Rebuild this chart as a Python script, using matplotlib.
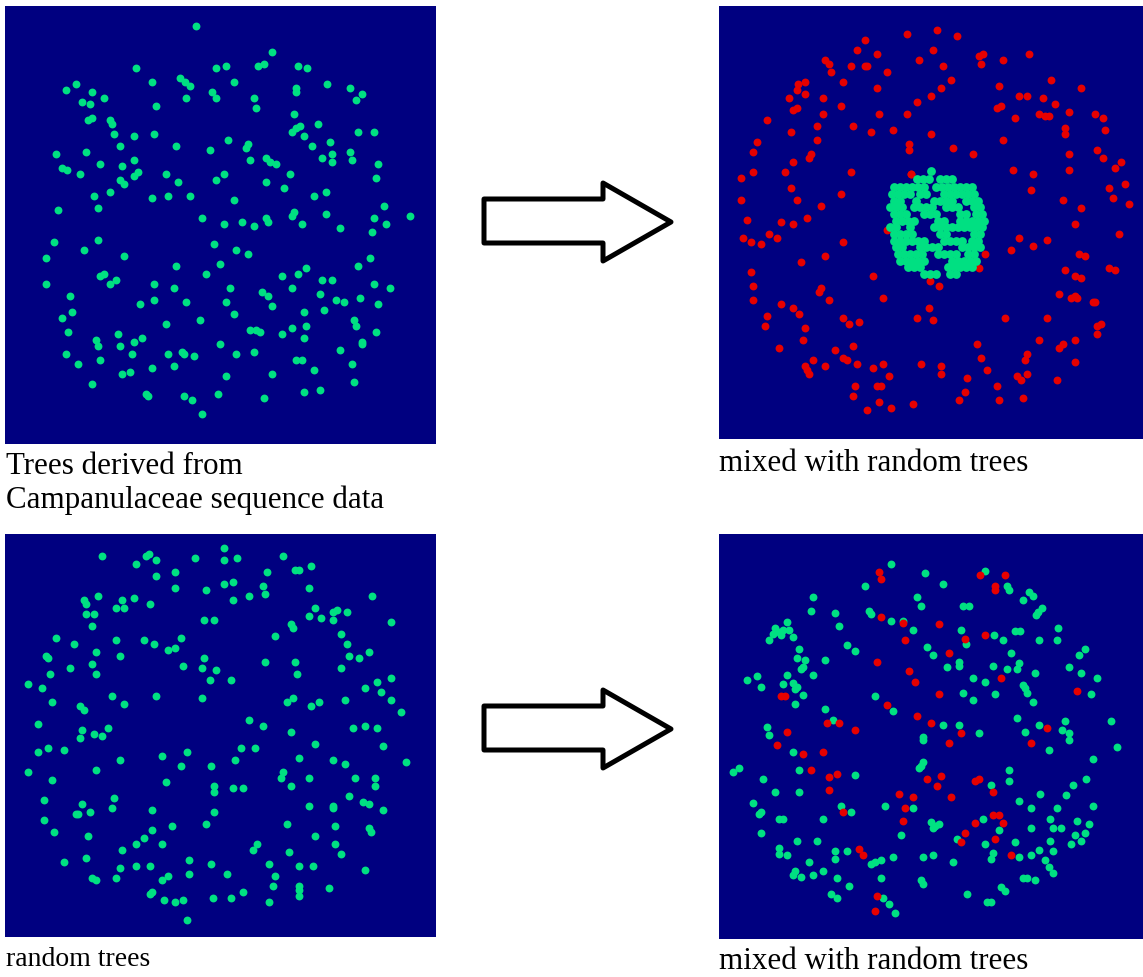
import numpy as np
import matplotlib
matplotlib.use("Agg")
import matplotlib.pyplot as plt
from matplotlib.patches import Polygon

# ---------------- data (pixel positions) ----------------
panel1_green = [(196,27),(272,53),(136,69),(216,69),(226,67),(258,67),(264,65),(298,67),(307,69),(76,85),(66,91),(152,83),(180,79),(185,83),(190,87),(234,83),(296,89),(296,93),(327,85),(350,89),(362,95),(356,101),(92,93),(104,99),(82,103),(90,105),(156,107),(186,99),(212,93),(216,99),(254,99),(256,109),(88,121),(92,119),(110,121),(112,125),(114,135),(134,137),(154,135),(294,115),(318,125),(292,133),(296,129),(300,127),(304,137),(358,133),(374,133),(56,155),(86,153),(120,147),(176,147),(210,151),(228,141),(248,145),(246,149),(312,147),(330,143),(332,155),(332,163),(322,159),(350,153),(352,161),(378,165),(62,169),(67,171),(80,175),(100,165),(122,167),(134,161),(120,181),(124,185),(134,177),(138,173),(166,175),(178,183),(216,181),(224,175),(250,161),(266,159),(270,163),(276,165),(290,175),(266,183),(284,189),(376,179),(94,197),(110,193),(152,199),(168,197),(190,197),(234,201),(314,197),(326,193),(58,211),(98,209),(384,207),(202,219),(224,225),(242,223),(254,227),(266,219),(268,223),(292,217),(294,213),(302,225),(326,215),(340,229),(374,219),(386,225),(410,217),(372,233),
    (54,243),(98,241),(84,251),(46,259),(124,257),(214,245),(236,251),(248,255),(370,259),(358,267),(176,267),(220,265),(206,275),(306,269),(298,275),(282,277),(100,277),(104,275),(110,285),(116,281),(46,285),(154,285),(174,289),(230,289),(292,289),(322,281),(332,281),(374,285),(390,289),(70,297),(140,305),(154,301),(186,303),(226,303),(262,293),(268,297),(272,307),(320,295),(336,301),(344,303),(360,299),(378,305),(72,313),(62,319),(234,315),(304,313),(324,311),(200,321),(166,325),(354,321),(356,327),(68,333),(118,335),(96,341),(98,347),(120,347),(134,343),(142,339),(250,331),(256,331),(260,333),(282,335),(292,329),(306,327),(304,339),(376,333),(362,343),(362,345),(220,345),(66,355),(100,361),(78,365),(132,355),(168,355),(182,353),(184,355),(194,357),(236,355),(254,353),(340,351),(296,361),(302,361),(352,365),(152,369),(174,367),(122,375),(130,373),(314,371),(226,377),(272,375),(354,383),(92,385),(146,395),(148,397),(184,397),(192,401),(218,395),(264,399),(304,393),(320,391),(202,415)]

panel2_red = [(937,31),(907,35),(957,37),(865,41),(857,51),(877,55),(933,51),(979,57),(983,55),(981,65),(1003,61),(1029,55),(919,61),(825,61),(829,65),(851,67),(865,67),(867,67),(943,67),(831,73),(887,73),(843,83),(877,89),(951,81),(941,89),(798,85),(805,83),(797,91),(805,95),(789,99),(823,99),(931,97),(917,103),(999,87),(1051,81),(1081,89),(1019,97),(1027,97),(1043,99),(1055,105),(793,111),(797,109),(841,107),(823,115),(879,115),(907,115),(997,109),(1001,107),(1015,119),(1039,115),(1045,117),(1049,117),(1069,113),(1095,115),(1103,119),(767,121),(817,127),(853,127),(791,133),(871,133),(893,131),(931,135),(1065,129),(1065,135),(1105,131),(757,143),(817,141),(909,145),(909,151),(1003,141),(753,153),(953,149),(973,155),(811,155),(809,159),(793,163),(1097,151),(1069,155),(1103,159),(1121,163),(1115,169),(753,173),(741,179),(785,173),(851,173),(911,175),(1013,171),(1033,175),(1069,171),(1125,185),(791,189),(1031,191),(1109,189),(741,201),(797,201),(841,195),(1063,201),(1113,199),(821,207),(1081,209),(1129,205),(747,221),(781,223),(793,225),(807,219),(1075,225),
    (743,239),(751,243),(761,245),(769,235),(777,239),(843,243),(887,231),(902,254),(985,255),(979,269),(1019,239),(1011,251),(1033,247),(1047,241),(1119,235),(1079,255),(1085,257),(1065,271),(1075,277),(1081,279),(1109,269),(1115,271),(801,263),(825,257),(751,273),(873,277),(930,282),(939,287),(753,287),(753,301),(819,293),(821,289),(829,301),(883,299),(781,305),(793,309),(799,315),(767,317),(765,327),(929,309),(917,319),(933,321),(843,319),(849,325),(859,323),(805,329),(803,341),(779,349),(1059,295),(1071,299),(1075,297),(1077,299),(1093,303),(1095,303),(1005,319),(1047,319),(1097,327),(1101,325),(1097,335),(1039,341),(1075,341),(1059,349),(1063,345),(977,345),(835,351),(853,347),(843,359),(847,361),(813,361),(805,367),(807,371),(809,375),(825,367),(857,365),(873,369),(883,365),(889,377),(921,365),(941,367),(941,375),(981,359),(987,371),(1027,355),(1025,361),(1027,375),(1017,377),(1021,381),(1075,363),(1057,381),(967,379),(997,387),(855,387),(877,387),(881,387),(853,397),(965,393),(959,401),(999,401),(1023,399),(879,403),(891,409),(867,411),(913,405),(911,175)]

# dense cluster of Campanulaceae trees: row y -> x positions
panel2_cluster_rows = {
    172: [931],
    180: [917,923,929,940,946,952],
    188: [894,900,906,912,918,924,936,942,948,954,960,966,972],
    195: [892,898,904,910,920,926,944,950,956,962,968,974],
    202: [894,900,916,934,940,946,952,966,972,978],
    208: [890,896,902,914,920,926,932,946,952,958,974,980],
    215: [894,900,906,924,930,936,960,966,976,982],
    222: [896,902,908,914,938,944,960,966,972,978,984],
    228: [890,896,910,934,940,946,952,958,964,970,976,982],
    235: [894,900,906,912,940,946,974,980],
    242: [894,900,906,912,918,924,944,950,956,962,972,978],
    248: [896,902,920,926,932,938,962,968,974,980],
    255: [898,904,910,916,922,938,944,950,956,968,974],
    262: [900,906,912,918,924,952,958,964,970,976],
    268: [908,914,920,948,954,960,966,972],
    275: [924,930,936,950,956],
}

panel3_green = [(102,557),(136,565),(146,557),(149,555),(156,561),(156,577),(175,573),(175,589),(195,559),(224,549),(224,561),(237,559),(283,557),(295,571),(299,571),(311,567),(267,573),(224,585),(233,583),(206,591),(263,587),(265,595),(249,597),(233,601),(309,589),(372,597),(84,601),(86,605),(98,597),(122,601),(116,609),(124,609),(134,599),(150,605),(86,615),(94,615),(92,627),(204,621),(214,621),(315,609),(309,617),(321,619),(333,613),(337,611),(333,621),(347,613),(391,623),(291,625),(293,629),(275,637),(341,635),(347,645),(56,639),(74,645),(116,641),(144,641),(154,645),(168,651),(175,649),(181,639),(96,653),(46,657),(48,659),(120,657),(349,657),(359,659),(369,653),(204,659),(92,665),(70,669),(96,675),(50,675),(183,667),(202,669),(216,671),(210,681),(231,681),(265,663),(295,663),(297,675),(341,669),(391,679),(377,683),(365,689),(381,693),(28,685),(42,689),(52,703),(112,697),(124,705),(156,697),(202,699),(80,707),(84,711),(287,703),(293,699),(311,707),(319,703),(345,701),(391,701),(401,713),(38,725),(82,731),(108,729),(94,735),(102,737),(249,721),(263,727),(291,733),(353,729),(365,727),(377,729),
    (80,739),(38,753),(48,749),(64,751),(28,773),(52,781),(96,771),(120,761),(162,757),(187,753),(181,767),(166,783),(211,767),(241,749),(255,749),(235,761),(214,787),(214,793),(233,789),(243,789),(315,745),(299,759),(333,761),(345,765),(383,747),(406,763),(283,773),(281,779),(291,787),(309,779),(355,779),(375,779),(375,787),(44,801),(44,821),(54,833),(82,805),(76,815),(78,815),(90,813),(114,799),(112,809),(152,811),(172,827),(152,831),(144,839),(136,845),(162,845),(214,813),(206,825),(88,837),(349,797),(363,803),(369,805),(309,807),(333,807),(333,809),(383,811),(287,825),(335,827),(369,829),(371,833),(315,837),(335,845),(341,855),(257,845),(253,851),(289,853),(122,851),(64,863),(86,859),(92,879),(96,881),(116,879),(120,869),(136,867),(150,867),(162,881),(168,877),(189,861),(189,875),(211,865),(227,875),(269,865),(275,877),(273,887),(299,867),(313,867),(365,871),(299,887),(299,891),(299,897),(329,889),(150,895),(152,893),(164,901),(175,903),(183,901),(213,899),(231,899),(243,893),(269,903),(187,921)]

panel4_green = [(891,565),(925,574),(985,572),(865,587),(943,585),(1007,587),(1009,591),(1029,593),(1033,597),(1023,601),(813,598),(917,598),(921,607),(963,607),(969,607),(1042,609),(1038,613),(1036,616),(811,612),(835,614),(869,612),(871,615),(891,622),(903,622),(913,631),(839,627),(787,623),(775,629),(779,633),(783,631),(789,631),(793,638),(773,635),(781,636),(769,641),(961,631),(994,636),(1003,641),(1015,632),(1020,632),(1058,629),(1039,641),(1057,641),(966,645),(927,648),(933,656),(847,646),(855,652),(799,650),(797,659),(805,661),(825,661),(1011,654),(1085,650),(1079,656),(959,663),(959,667),(947,668),(993,667),(1007,670),(1019,664),(1017,670),(1069,668),(801,670),(803,668),(787,676),(813,676),(757,677),(747,681),(973,679),(985,683),(1035,674),(1081,674),(1097,679),(783,685),(793,684),(797,688),(795,690),(761,688),(803,696),(1023,686),(1025,689),(1027,694),(963,694),(995,695),(875,697),(973,701),(1091,695),(1033,703),(795,705),(825,710),(893,712),(833,721),(767,728),(769,736),(943,726),(959,726),(979,734),(1017,719),(1039,726),(1065,722),(1062,731),(1069,734),(1111,722),(1025,733),(923,738),
    (923,741),(1069,741),(733,773),(739,769),(793,753),(1049,751),(1117,748),(1093,760),(921,767),(919,769),(923,763),(799,771),(855,776),(763,780),(1009,771),(1009,782),(1086,780),(1073,786),(991,786),(775,793),(799,793),(1040,795),(1066,796),(753,804),(841,807),(851,813),(885,807),(913,809),(1019,802),(1031,809),(1057,809),(1093,807),(761,813),(759,815),(779,820),(783,820),(823,820),(983,820),(931,823),(935,827),(939,825),(933,829),(999,831),(1050,820),(1077,822),(1089,825),(1031,829),(1053,829),(1061,829),(1085,834),(1075,836),(1081,842),(1071,845),(761,834),(901,836),(797,842),(817,842),(957,840),(985,845),(1015,843),(1050,842),(779,849),(779,855),(787,856),(835,852),(835,860),(847,852),(893,858),(923,858),(933,856),(993,854),(991,860),(1019,858),(1031,856),(1039,851),(1053,852),(809,863),(871,865),(875,863),(881,861),(953,863),(1045,861),(1049,868),(1053,874),(795,872),(793,876),(801,878),(813,876),(823,872),(837,879),(881,879),(849,887),(921,881),(923,885),(1023,879),(1027,879),(1035,881),(1001,888),(1005,892),(831,895),(837,899),(883,899),(889,905),(895,914),(967,895),(987,903),(991,903)]

panel4_red = [(879,573),(881,580),(980,576),(1005,576),(995,587),(995,591),(881,618),(903,624),(939,625),(905,641),(965,640),(985,636),(949,654),(877,663),(909,672),(915,683),(1001,679),(1077,692),(781,697),(785,697),(939,695),(887,706),(917,717),(931,724),(827,724),(839,724),(855,731),(787,733),(1047,729),(961,734),
    (777,746),(803,755),(823,753),(949,744),(1031,744),(811,771),(829,778),(837,775),(829,791),(927,780),(941,777),(937,787),(975,782),(979,780),(993,793),(899,795),(913,798),(951,798),(905,809),(843,813),(903,822),(993,816),(999,816),(1003,824),(975,824),(965,834),(961,843),(995,840),(1011,856),(859,850),(863,856),(877,897),(875,912)]

captions = ["Trees derived from\nCampanulaceae sequence data",
            "mixed with random trees",
            "random trees",
            "mixed with random trees"]

# ---------------- styling / layout ----------------
W, H = 1143, 978
BG = "#000080"
GREEN = "#00E082"
RED = "#E60000"
MS = 32
MS_CLUSTER = 40

fig = plt.figure(figsize=(W / 100, H / 100), dpi=100)
fig.patch.set_facecolor("white")

# panel bounds in pixels: (left, top, right, bottom)
bounds = [(5, 7, 436, 445), (719, 7, 1143, 440), (5, 535, 436, 938), (719, 535, 1143, 940)]


def make_ax(b):
    l, t, r, bt = b
    ax = fig.add_axes([l / W, 1 - bt / H, (r - l) / W, (bt - t) / H])
    ax.set_xlim(l, r)
    ax.set_ylim(bt, t)
    ax.set_facecolor(BG)
    ax.set_xticks([])
    ax.set_yticks([])
    for s in ax.spines.values():
        s.set_visible(False)
    return ax


def scat(ax, pts, color, s=MS):
    a = np.array(pts, dtype=float)
    ax.scatter(a[:, 0], a[:, 1], s=s, c=color, marker="o", linewidths=0)


ax1 = make_ax(bounds[0])
scat(ax1, panel1_green, GREEN)

ax2 = make_ax(bounds[1])
cluster = [(x, y) for y, xs in panel2_cluster_rows.items() for x in xs]
scat(ax2, panel2_red, RED)
scat(ax2, cluster, GREEN, MS_CLUSTER)

ax3 = make_ax(bounds[2])
scat(ax3, panel3_green, GREEN)

ax4 = make_ax(bounds[3])
scat(ax4, panel4_green, GREEN)
scat(ax4, panel4_red, RED)

# overlay for arrows and captions
ov = fig.add_axes([0, 0, 1, 1], zorder=10)
ov.set_xlim(0, W)
ov.set_ylim(H, 0)
ov.axis("off")
ov.patch.set_alpha(0)

for dy in (0, 507):
    arrow = [(484, 200 + dy), (603, 200 + dy), (603, 184 + dy), (671, 223 + dy),
             (603, 262 + dy), (603, 244 + dy), (484, 244 + dy)]
    ov.add_patch(Polygon(arrow, closed=True, facecolor="white", edgecolor="black",
                         linewidth=3.6, joinstyle="round"))

serif = ["Liberation Serif", "DejaVu Serif"]
fs = 22.3
ov.text(6, 474, "Trees derived from", fontsize=fs, family=serif, va="baseline", ha="left")
ov.text(6, 508, "Campanulaceae sequence data", fontsize=fs, family=serif, va="baseline", ha="left")
ov.text(719, 471, captions[1], fontsize=fs, family=serif, va="baseline", ha="left")
ov.text(6, 966, captions[2], fontsize=20, family=serif, va="baseline", ha="left")
ov.text(719, 969, captions[3], fontsize=fs, family=serif, va="baseline", ha="left")

fig.savefig("out.png", dpi=100, facecolor="white")
